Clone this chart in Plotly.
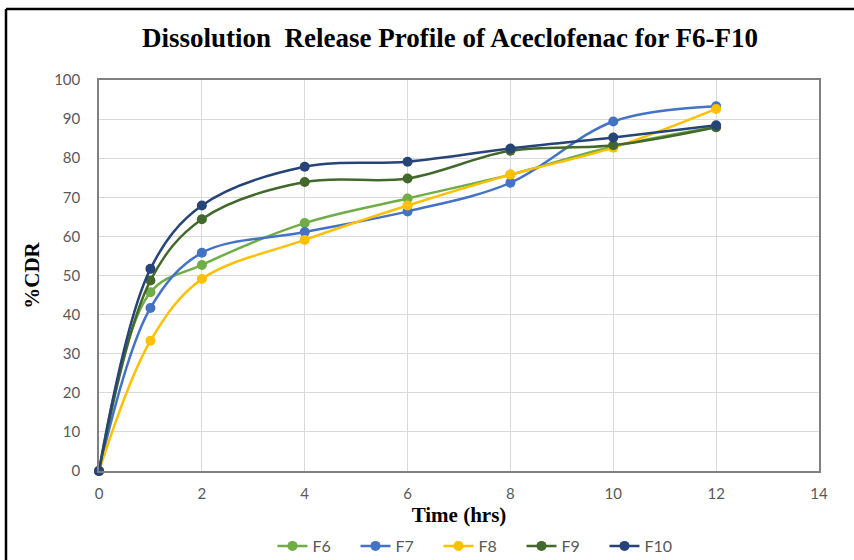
import plotly.graph_objects as go

time_hrs = [0, 1, 2, 4, 6, 8, 10, 12]
series_names = ["F6", "F7", "F8", "F9", "F10"]
f6 = [0, 45.7, 52.7, 63.4, 69.7, 75.8, 83.0, 88.0]
f7 = [0, 41.7, 55.8, 61.1, 66.4, 73.7, 89.4, 93.3]
f8 = [0, 33.3, 49.1, 59.1, 67.9, 75.8, 82.7, 92.6]
f9 = [0, 48.7, 64.4, 73.9, 74.8, 81.9, 83.3, 87.9]
f10 = [0, 51.7, 67.9, 77.8, 79.1, 82.5, 85.3, 88.4]
colors = ["#70AD47", "#4472C4", "#FFC000", "#43682B", "#264478"]

x_ticks = [0, 2, 4, 6, 8, 10, 12, 14]
y_ticks = [0, 10, 20, 30, 40, 50, 60, 70, 80, 90, 100]

fig = go.Figure()
for name, vals, col in zip(series_names, [f6, f7, f8, f9, f10], colors):
    fig.add_trace(go.Scatter(
        x=time_hrs, y=vals, name=name, mode="lines+markers",
        line=dict(color=col, width=2.5, shape="spline", smoothing=1.0),
        marker=dict(color=col, size=10),
        cliponaxis=False,
    ))

L, R, T, B = 99, 35, 80, 89
W, H = 854, 560
pw, ph = W - L - R, H - T - B

fig.update_layout(
    width=W, height=H,
    margin=dict(l=L, r=R, t=T, b=B, pad=0, autoexpand=False),
    paper_bgcolor="white", plot_bgcolor="white",
    title=dict(
        text="<b>Dissolution  Release Profile of Aceclofenac for F6-F10</b>",
        font=dict(family="Liberation Serif", size=27, color="black"),
        x=450 / W, xanchor="center", xref="container",
        y=1 - 38 / H, yanchor="middle", yref="container",
    ),
    xaxis=dict(
        range=[0, 14], tickvals=x_ticks, ticktext=[str(v) for v in x_ticks],
        showgrid=True, gridcolor="#d9d9d9", gridwidth=1,
        showline=True, linecolor="#808080", linewidth=1.5, mirror=True,
        zeroline=False, ticks="", ticklabelstandoff=8, automargin=False,
        tickfont=dict(family="Lato", size=15, color="#595959"),
        title=dict(text="<b>Time (hrs)</b>", standoff=7,
                   font=dict(family="Liberation Serif", size=21, color="black")),
    ),
    yaxis=dict(
        range=[0, 100], tickvals=y_ticks, ticktext=[str(v) for v in y_ticks],
        showgrid=True, gridcolor="#d9d9d9", gridwidth=1,
        showline=True, linecolor="#808080", linewidth=1.5, mirror=True,
        zeroline=False, ticks="", ticklabelstandoff=14, automargin=False,
        tickfont=dict(family="Lato", size=15, color="#595959"),
        title=dict(text="<b>%CDR</b>", standoff=9,
                   font=dict(family="Liberation Serif", size=21, color="black")),
    ),
    legend=dict(
        orientation="h", x=480 / W, xanchor="center", xref="container",
        y=1 - 546 / H, yanchor="middle", yref="container",
        font=dict(family="Lato", size=16, color="#595959"),
        entrywidth=38, entrywidthmode="pixels", itemwidth=30,
    ),
    showlegend=True,
)

# outer black frame (left and top edges)
fig.add_shape(type="line", xref="paper", yref="paper",
              x0=(6 - L) / pw, x1=(6 - L) / pw, y0=(471 - 562) / ph, y1=(471 - 9) / ph,
              line=dict(color="black", width=2.5))
fig.add_shape(type="line", xref="paper", yref="paper",
              x0=(6 - L) / pw, x1=(856 - L) / pw, y0=(471 - 9) / ph, y1=(471 - 9) / ph,
              line=dict(color="black", width=2.5))

fig.write_html("out.html")
